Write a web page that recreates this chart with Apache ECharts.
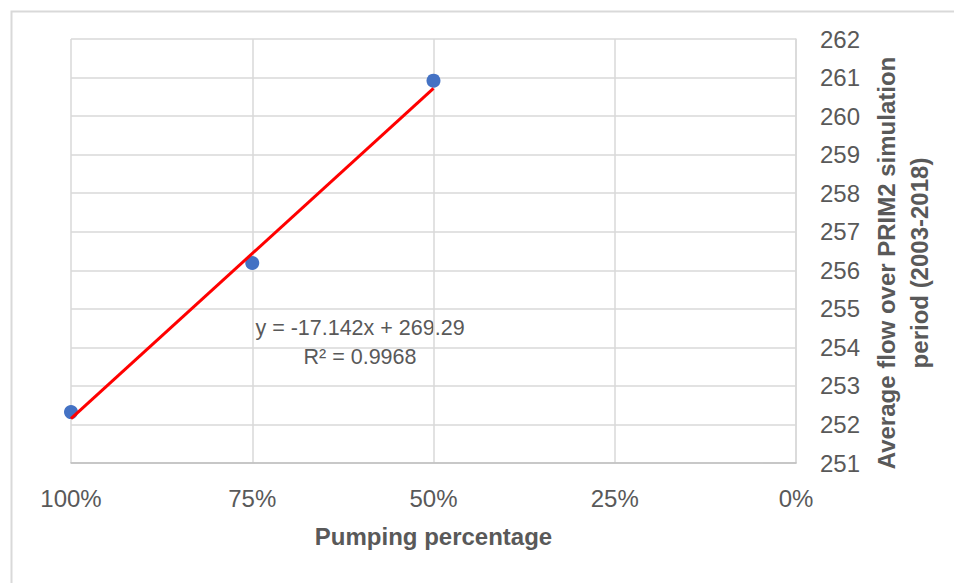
<!DOCTYPE html>
<html>
<head>
<meta charset="utf-8">
<script src="https://cdn.jsdelivr.net/npm/echarts@6/dist/echarts.min.js"></script>
<style>
html,body{margin:0;padding:0;background:#fff;}
#c{width:954px;height:583px;}
</style>
</head>
<body>
<div id="c"></div>
<script>
var pumping = [1, 0.75, 0.5];
var flow = [252.32, 256.19, 260.92];
var trendX = [1, 0.5];
var trendY = [252.15, 260.72];
var xTicks = [0, 0.25, 0.5, 0.75, 1];
var equationText = 'y = -17.142x + 269.29';
var r2Text = 'R\u00b2 = 0.9968';
var xTitle = 'Pumping percentage';
var yTitle = 'Average flow over PRIM2 simulation\nperiod (2003-2018)';

var chart = echarts.init(document.getElementById('c'), null, {renderer: 'svg'});
var font = 'Liberation Sans, Arial, sans-serif';
var txt = '#595959';
var option = {
  animation: false,
  backgroundColor: '#fff',
  grid: {left: 71, right: 158, top: 39, bottom: 120},
  xAxis: {
    type: 'value', inverse: true, min: 0, max: 1, interval: 0.25,
    axisLine: {show: true, lineStyle: {color: '#bfbfbf', width: 1.5}},
    axisTick: {show: false},
    splitLine: {show: true, lineStyle: {color: '#d9d9d9', width: 1.5}},
    axisLabel: {color: txt, fontSize: 24, fontFamily: font, margin: 23,
      formatter: function (v) { return Math.round(v * 100) + '%'; }},
    name: xTitle, nameLocation: 'middle', nameGap: 61,
    nameTextStyle: {color: txt, fontSize: 24, fontWeight: 'bold', fontFamily: font}
  },
  yAxis: {
    type: 'value', position: 'right', min: 251, max: 262, interval: 1,
    axisLine: {show: true, lineStyle: {color: '#d9d9d9', width: 1.5}},
    axisTick: {show: false},
    splitLine: {show: true, lineStyle: {color: '#d9d9d9', width: 1.5}},
    axisLabel: {color: txt, fontSize: 24, fontFamily: font, margin: 24, align: 'left'}
  },
  graphic: [
    {type: 'rect', left: 9, top: 9, shape: {x: 0, y: 0, width: 1000, height: 1000},
      style: {fill: 'none', stroke: '#d9d9d9', lineWidth: 2}, silent: true, z: -10},
    {type: 'text', x: 903, y: 263, rotation: Math.PI / 2,
      style: {text: yTitle, fill: txt, font: 'bold 24px ' + font, textAlign: 'center', textVerticalAlign: 'middle', lineHeight: 33}},
    {type: 'text', x: 360, y: 328,
      style: {text: equationText, fill: txt, font: '21.5px ' + font, textAlign: 'center', textVerticalAlign: 'middle'}},
    {type: 'text', x: 360, y: 357,
      style: {text: r2Text, fill: txt, font: '21.5px ' + font, textAlign: 'center', textVerticalAlign: 'middle'}}
  ],
  series: [
    {
      type: 'scatter', symbolSize: 14, itemStyle: {color: '#4472c4', opacity: 1},
      data: pumping.map(function (p, i) { return [p, flow[i]]; }), z: 2
    },
    {
      type: 'line', showSymbol: false, lineStyle: {color: '#ff0000', width: 3},
      data: trendX.map(function (p, i) { return [p, trendY[i]]; }), z: 3
    }
  ]
};
chart.setOption(option);
</script>
</body>
</html>
